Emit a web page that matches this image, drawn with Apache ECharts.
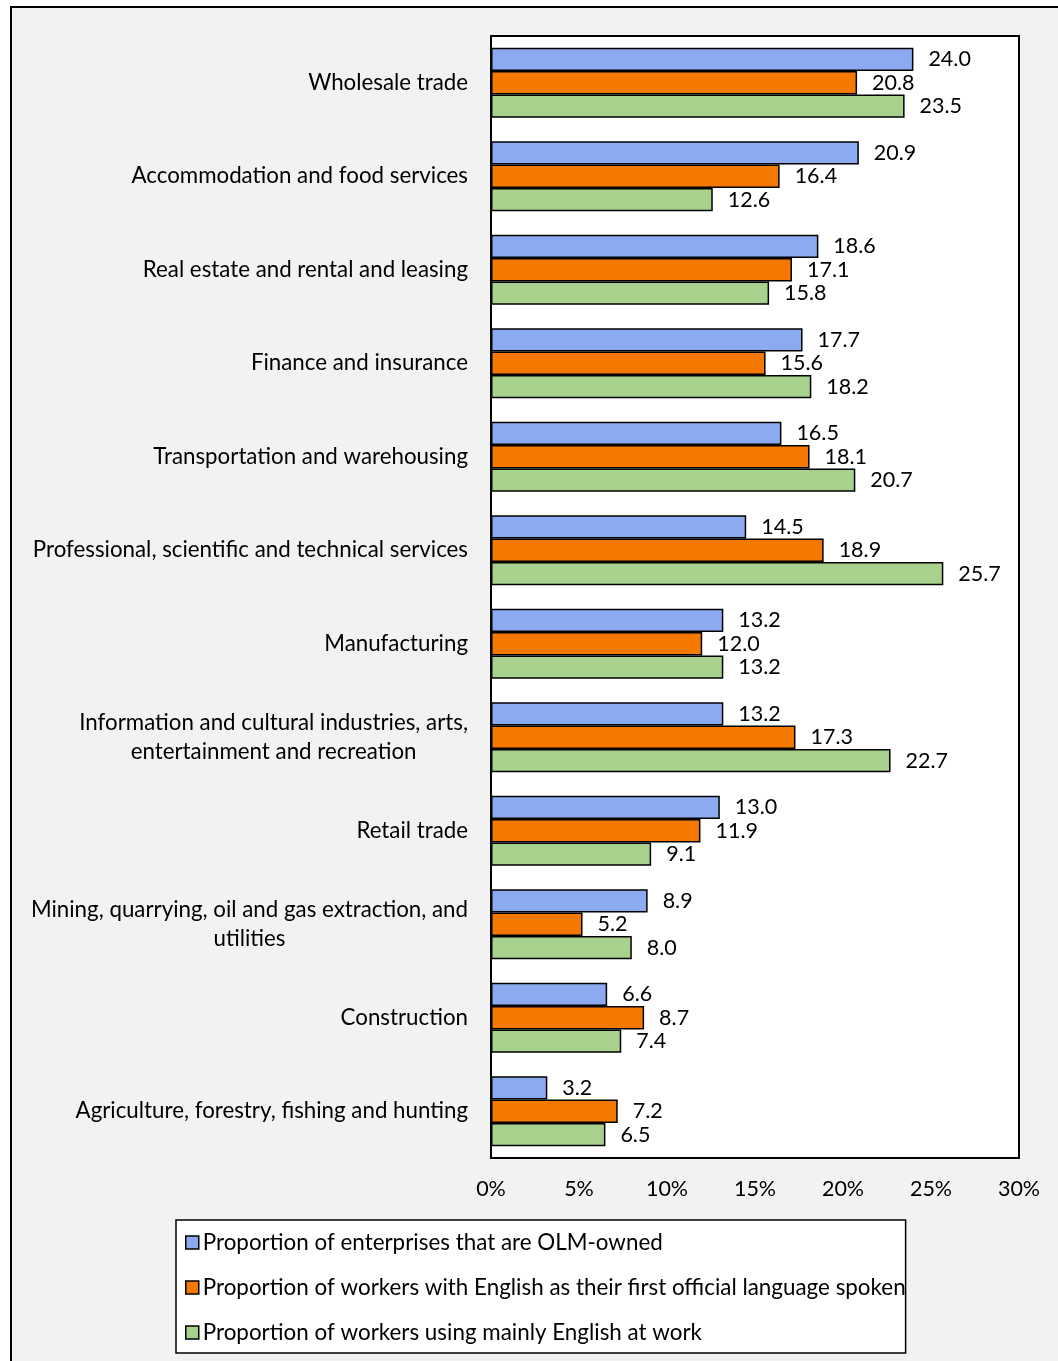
<!DOCTYPE html>
<html>
<head>
<meta charset="utf-8">
<script src="https://cdn.jsdelivr.net/npm/echarts@6/dist/echarts.min.js"></script>
<style>
  html, body { margin: 0; padding: 0; background: #fff; }
  #chart { width: 1058px; height: 1361px; }
</style>
</head>
<body>
<div id="chart"></div>
<script>
var categories = [
  'Wholesale trade',
  'Accommodation and food services',
  'Real estate and rental and leasing',
  'Finance and insurance',
  'Transportation and warehousing',
  'Professional, scientific and technical services',
  'Manufacturing',
  'Information and cultural industries, arts,\nentertainment and recreation',
  'Retail trade',
  'Mining, quarrying, oil and gas extraction, and\nutilities',
  'Construction',
  'Agriculture, forestry, fishing and hunting'
];
var seriesNames = [
  'Proportion of enterprises that are OLM-owned',
  'Proportion of workers with English as their first official language spoken',
  'Proportion of workers using mainly English at work'
];
var olmOwned = [24.0, 20.9, 18.6, 17.7, 16.5, 14.5, 13.2, 13.2, 13.0, 8.9, 6.6, 3.2];
var englishFirst = [20.8, 16.4, 17.1, 15.6, 18.1, 18.9, 12.0, 17.3, 11.9, 5.2, 8.7, 7.2];
var englishAtWork = [23.5, 12.6, 15.8, 18.2, 20.7, 25.7, 13.2, 22.7, 9.1, 8.0, 7.4, 6.5];
var colors = ['#8BAAF0', '#F57800', '#A9D18E'];

var font = 'Lato, "Open Sans", sans-serif';

var myChart = echarts.init(document.getElementById('chart'));

function makeSeries(name, data, color) {
  return {
    name: name,
    type: 'bar',
    data: data,
    barGap: '0%',
    barCategoryGap: '25%',
    itemStyle: { color: color, borderColor: '#000', borderWidth: 1.5 },
    label: {
      show: true,
      position: 'right',
      distance: 15,
      color: '#000',
      fontFamily: font,
      fontSize: 21.5,
      formatter: function (p) { return p.value.toFixed(1); }
    }
  };
}

var option = {
  backgroundColor: '#fff',
  animation: false,
  graphic: [{
    type: 'rect',
    z: -10,
    shape: { x: 11, y: 7, width: 1060, height: 1370 },
    style: { fill: '#f2f2f2', stroke: '#000', lineWidth: 2 }
  }],
  legend: {
    orient: 'vertical',
    left: 176,
    top: 1220,
    padding: [11, 0, 9, 9],
    itemGap: 22,
    itemWidth: 13,
    itemHeight: 13,
    icon: 'rect',
    backgroundColor: '#fff',
    borderColor: '#000',
    borderWidth: 1.5,
    itemStyle: { borderColor: '#000', borderWidth: 1.5 },
    textStyle: { fontFamily: font, fontSize: 22.4, color: '#000', lineHeight: 23, padding: [0, 0, 0, -1] },
    data: seriesNames
  },
  grid: {
    left: 491,
    top: 36,
    width: 528,
    height: 1122,
    show: true,
    backgroundColor: '#fff',
    borderColor: '#000',
    borderWidth: 2
  },
  xAxis: {
    type: 'value',
    min: 0,
    max: 30,
    interval: 5,
    axisLine: { show: false },
    axisTick: { show: false },
    splitLine: { show: false },
    axisLabel: {
      margin: 20,
      color: '#000',
      fontFamily: font,
      fontSize: 21.5,
      formatter: '{value}%'
    }
  },
  yAxis: {
    type: 'category',
    inverse: true,
    data: categories,
    axisLine: { show: false },
    axisTick: { show: false },
    axisLabel: {
      margin: 23,
      color: '#000',
      fontFamily: font,
      fontSize: 22.3,
      lineHeight: 29,
      formatter: function (v) {
        return v.split('\n').map(function (s) { return '{c|' + s + '}'; }).join('\n');
      },
      rich: {
        c: { align: 'center', fontFamily: font, fontSize: 22.3, lineHeight: 29, color: '#000' }
      }
    }
  },
  series: [
    makeSeries(seriesNames[0], olmOwned, colors[0]),
    makeSeries(seriesNames[1], englishFirst, colors[1]),
    makeSeries(seriesNames[2], englishAtWork, colors[2])
  ]
};

myChart.setOption(option);
</script>
</body>
</html>
